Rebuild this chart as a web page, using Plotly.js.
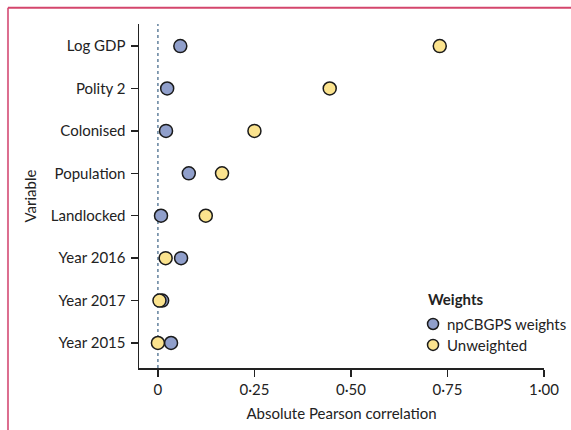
<!DOCTYPE html>
<html>
<head>
<meta charset="utf-8">
<script src="https://cdn.plot.ly/plotly-3.0.1.min.js"></script>
<style>html,body{margin:0;padding:0;background:#fff;overflow:hidden;} #chart{width:571px;height:430px;}</style>
</head>
<body>
<div id="chart"></div>
<script>
// Categories, bottom to top
var variables = ["Year 2015", "Year 2017", "Year 2016", "Landlocked", "Population", "Colonised", "Polity 2", "Log GDP"];
var npcbgpsWeights = [0.034, 0.011, 0.060, 0.008, 0.080, 0.021, 0.024, 0.058];
var unweighted = [0.000, 0.004, 0.020, 0.124, 0.166, 0.250, 0.445, 0.730];
var xTickVals = [0, 0.25, 0.5, 0.75, 1.0];
var xTickText = ["0", "0·25", "0·50", "0·75", "1·00"];
var seriesNames = ["npCBGPS weights", "Unweighted"];
var legendTitle = "Weights";

var FONT = "Lato, 'Open Sans', sans-serif";
var FS = 15;
var INK = "#222222";
var colors = ["#909fcb", "#fbe38e"];

var traces = [
  {
    type: "scatter", mode: "markers", name: seriesNames[0], showlegend: false,
    x: npcbgpsWeights, y: variables,
    marker: {size: 13, color: colors[0], line: {color: "#1a1a1a", width: 1.5}}
  },
  {
    type: "scatter", mode: "markers", name: seriesNames[1], showlegend: false,
    x: unweighted, y: variables,
    marker: {size: 13, color: colors[1], line: {color: "#1a1a1a", width: 1.5}}
  }
];

// Legend built from annotations + pixel-sized circle shapes
var legX = 0.726, legTextX = 0.755, legTitleX = 0.709;
var legY = [0.128, 0.067], legTitleY = 0.201;
var annotations = [
  {xref: "paper", yref: "paper", x: legTitleX, y: legTitleY, xanchor: "left", yanchor: "middle",
   text: "<b>" + legendTitle + "</b>", showarrow: false, font: {family: FONT, size: FS, color: INK}}
];
var legendShapes = [];
seriesNames.forEach(function (n, i) {
  annotations.push({xref: "paper", yref: "paper", x: legTextX, y: legY[i], xanchor: "left", yanchor: "middle",
    text: n, showarrow: false, font: {family: FONT, size: FS, color: INK}});
  legendShapes.push({type: "circle", xref: "paper", yref: "paper", xsizemode: "pixel", ysizemode: "pixel",
    xanchor: legX, yanchor: legY[i], x0: -5.5, x1: 5.5, y0: -5.5, y1: 5.5,
    fillcolor: colors[i], line: {color: "#1a1a1a", width: 1.5}});
});

var layout = {
  width: 571, height: 430,
  margin: {l: 139, r: 27, t: 24, b: 62},
  paper_bgcolor: "#ffffff", plot_bgcolor: "#ffffff",
  font: {family: FONT, size: FS, color: INK},
  showlegend: false,
  xaxis: {
    range: [-0.049, 1.0], tickvals: xTickVals, ticktext: xTickText,
    showgrid: false, zeroline: false, showline: true, linecolor: INK, linewidth: 1.5,
    ticks: "outside", ticklen: 7, tickwidth: 1.5, tickcolor: INK,
    title: {text: "Absolute Pearson correlation", standoff: 12, font: {family: FONT, size: FS, color: INK}},
    tickfont: {family: FONT, size: FS, color: INK}
  },
  yaxis: {
    type: "category", categoryorder: "array", categoryarray: variables,
    range: [-0.59, 7.52],
    showgrid: false, zeroline: false, showline: true, linecolor: INK, linewidth: 1.5,
    ticks: "outside", ticklen: 7, tickwidth: 1.5, tickcolor: INK, ticklabelstandoff: 2,
    title: {text: "Variable", standoff: 10, font: {family: FONT, size: FS, color: INK}},
    tickfont: {family: FONT, size: FS, color: INK}
  },
  annotations: annotations,
  shapes: [
    {type: "line", xref: "x", yref: "paper", x0: 0, x1: 0, y0: 0, y1: 1,
     line: {color: "#4a6e8e", width: 1.3, dash: "3px,3px"}, layer: "below"},
    {type: "line", xref: "paper", yref: "paper", x0: -0.3235, x1: -0.3235, y0: -0.2, y1: 1.047,
     line: {color: "#dc6d8e", width: 2}},
    {type: "line", xref: "paper", yref: "paper", x0: -0.3235, x1: 1.1, y0: 1.047, y1: 1.047,
     line: {color: "#d4466c", width: 2}}
  ].concat(legendShapes)
};

Plotly.newPlot("chart", traces, layout, {displayModeBar: false, staticPlot: true});
</script>
</body>
</html>
